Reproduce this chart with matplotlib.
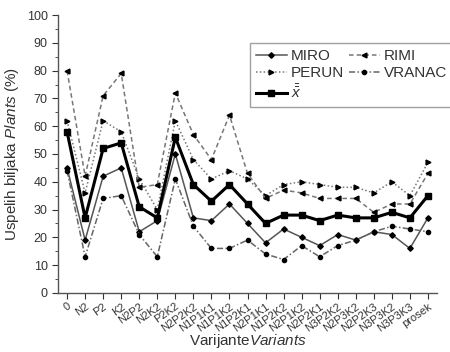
import matplotlib
matplotlib.use("Agg")
import matplotlib.pyplot as plt
from matplotlib.ticker import MultipleLocator

plt.rcParams['font.family'] = ['Liberation Sans', 'DejaVu Sans']
plt.rcParams['mathtext.fontset'] = 'custom'
plt.rcParams['mathtext.rm'] = 'Liberation Sans'
plt.rcParams['mathtext.it'] = 'Liberation Sans:italic'

variants = ["0", "N2", "P2", "K2", "N2P2", "N2K2", "P2K2", "N2P2K2",
            "N1P1K1", "N1P1K2", "N1P2K1", "N2P1K1", "N1P2K2", "N2P1K2",
            "N2P2K1", "N3P2K2", "N2P3K2", "N2P2K3", "N3P3K2", "N3P3K3",
            "prosek"]

miro   = [45, 19, 42, 45, 22, 26, 50, 27, 26, 32, 25, 18, 23, 20, 17, 21, 19, 22, 21, 16, 27]
rimi   = [80, 42, 71, 79, 38, 39, 72, 57, 48, 64, 43, 34, 37, 36, 34, 34, 34, 29, 32, 32, 43]
perun  = [62, 36, 62, 58, 41, 30, 62, 48, 41, 44, 41, 35, 39, 40, 39, 38, 38, 36, 40, 35, 47]
vranac = [44, 13, 34, 35, 21, 13, 41, 24, 16, 16, 19, 14, 12, 17, 13, 17, 19, 22, 24, 23, 22]
mean   = [58, 27, 52, 54, 31, 27, 56, 39, 33, 39, 32, 25, 28, 28, 26, 28, 27, 27, 29, 27, 35]

x = list(range(len(variants)))

fig = plt.figure(figsize=(4.5, 3.52), dpi=100)
ax = fig.add_axes([0.129, 0.168, 0.842, 0.789])

ax.plot(x, miro, color='#555555', lw=1.1, marker='D', ms=2.8,
        mfc='black', mec='black', label='MIRO')
ax.plot(x, perun, color='#777777', lw=1.1, ls=(0, (1, 1.5)), marker='>', ms=3.5,
        mfc='black', mec='black', label='PERUN')
ax.plot(x, mean, color='black', lw=2.2, marker='s', ms=5,
        mfc='black', mec='black', label=r'$\bar{\bar{x}}$')
ax.plot(x, rimi, color='#777777', lw=1.1, ls=(0, (3, 2)), marker='<', ms=3.5,
        mfc='black', mec='black', label='RIMI')
ax.plot(x, vranac, color='#666666', lw=1.1, ls=(0, (4, 1.5, 1, 1.5)), marker='o', ms=3,
        mfc='black', mec='black', label='VRANAC')

ax.set_xlim(-0.5, len(variants) - 0.5)
ax.set_ylim(0, 100)
ax.yaxis.set_major_locator(MultipleLocator(10))
ax.yaxis.set_minor_locator(MultipleLocator(5))
ax.set_xticks(x)
ax.set_xticklabels(variants, rotation=35, ha='right', rotation_mode='anchor',
                   fontsize=8, color='#333333')
ax.tick_params(axis='y', labelsize=9, colors='#333333', direction='out', length=4)
ax.tick_params(axis='y', which='minor', direction='out', length=2.5, color='#333333')
ax.tick_params(axis='x', direction='out', length=4, colors='#333333', pad=2)

for side in ('top', 'right'):
    ax.spines[side].set_visible(False)
for side in ('left', 'bottom'):
    ax.spines[side].set_color('#555555')
    ax.spines[side].set_linewidth(1.0)

ax.set_ylabel(r'Uspelih biljaka $\it{Plants}$ (%)', fontsize=11, color='#333333', labelpad=4)
ax.set_xlabel(r'Varijante$\it{Variants}$', fontsize=11, color='#333333')
ax.xaxis.set_label_coords(0.5, -0.14)

leg = ax.legend(ncol=2, loc='upper left', fontsize=11, frameon=True,
                fancybox=False, edgecolor='#888888', handlelength=2.0,
                handletextpad=0.3, columnspacing=0.3, labelspacing=0.2,
                borderpad=0.4, borderaxespad=0)
leg.get_frame().set_linewidth(1.0)
for t in leg.get_texts():
    t.set_color('#333333')
# legend placed in the upper right, clear of the data lines
leg.set_bbox_to_anchor((250 / 450, 1 - 43 / 352), transform=fig.transFigure)

fig.savefig('out.png', dpi=100)
